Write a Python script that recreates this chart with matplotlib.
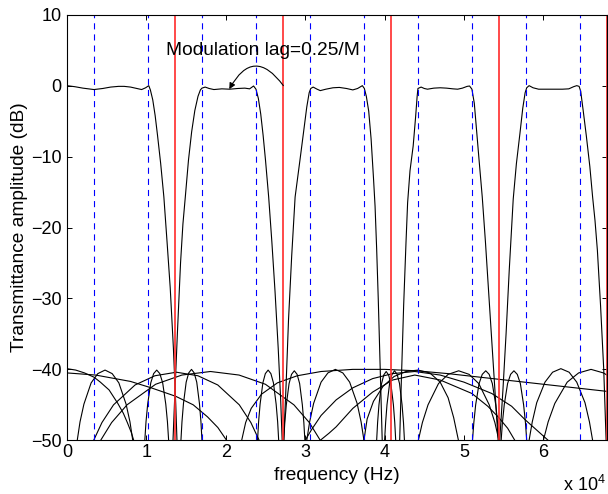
import numpy as np
import matplotlib.pyplot as plt

plt.rcParams['font.family'] = ['Liberation Sans', 'DejaVu Sans']
plt.rcParams['mathtext.fontset'] = 'custom'
plt.rcParams['mathtext.rm'] = 'Liberation Sans'

HZ = 1e4  # all frequency lists below are in units of 10^4 Hz

# band edges
red_edges = [1.36, 2.72, 4.08, 5.44, 6.80]
blue_edges = [0.34, 1.02, 1.70, 2.38, 3.06, 3.74, 4.42, 5.10, 5.78, 6.46]

# channel responses, passband + transition bands (dB)
ch1_f = [0.00, 0.10, 0.20, 0.34, 0.45, 0.55, 0.65, 0.72, 0.80, 0.88, 0.94, 0.99,
         1.03, 1.05, 1.08, 1.11, 1.14, 1.18, 1.22, 1.26, 1.30, 1.34, 1.37, 1.385]
ch1_db = [0.0, -0.15, -0.35, -0.55, -0.4, -0.2, -0.1, -0.1, -0.2, -0.4, -0.55, -0.3,
          0.0, -0.6, -2.0, -4.2, -7.0, -11.0, -15.7, -22.0, -28.5, -37.0, -45.0, -50.0]

ch2_f = [1.335, 1.36, 1.39, 1.43, 1.46, 1.49, 1.53, 1.57, 1.61, 1.65, 1.68, 1.70,
         1.74, 1.79, 1.85, 1.95, 2.05, 2.15, 2.24, 2.30, 2.35, 2.38, 2.41, 2.44,
         2.47, 2.50, 2.54, 2.58, 2.62, 2.66, 2.69, 2.71]
ch2_db = [-50.0, -43.0, -35.0, -25.0, -19.5, -15.7, -10.5, -6.5, -3.5, -1.5, -0.6, -0.35,
          -0.2, -0.4, -0.55, -0.45, -0.5, -0.4, -0.35, -0.45, -0.05, -0.5, -1.8, -4.0,
          -7.0, -10.5, -15.7, -22.0, -29.0, -37.0, -44.0, -50.0]

ch3_f = [2.73, 2.76, 2.79, 2.83, 2.873, 2.934, 2.98, 3.02, 3.05, 3.07, 3.10, 3.15,
         3.19, 3.26, 3.35, 3.43, 3.52, 3.60, 3.66, 3.72, 3.745, 3.77, 3.80, 3.83,
         3.86, 3.88, 3.90, 3.92, 3.94, 3.96, 3.97]
ch3_db = [-50.0, -42.0, -33.0, -24.0, -15.7, -10.5, -6.5, -3.0, -1.0, -0.4, -0.2, -0.5,
          -0.7, -0.5, -0.3, -0.25, -0.4, -0.6, -0.4, 0.0, -0.4, -1.5, -3.6, -7.5,
          -13.0, -17.0, -23.0, -30.0, -38.0, -46.0, -50.0]

ch4_f = [4.19, 4.21, 4.24, 4.27, 4.29, 4.32, 4.36, 4.39, 4.41, 4.42, 4.46, 4.50,
         4.54, 4.62, 4.70, 4.78, 4.86, 4.92, 4.98, 5.04, 5.07, 5.10, 5.13, 5.16,
         5.19, 5.23, 5.27, 5.31, 5.35, 5.39, 5.43]
ch4_db = [-50.0, -42.0, -31.0, -22.0, -16.5, -12.0, -8.5, -4.5, -1.5, -0.4, -0.2, -0.4,
          -0.5, -0.35, -0.3, -0.35, -0.45, -0.5, -0.35, -0.1, -0.05, -0.5, -2.5, -6.5,
          -10.5, -15.7, -22.0, -29.0, -36.0, -43.0, -50.0]

ch5_f = [5.45, 5.49, 5.53, 5.57, 5.62, 5.66, 5.705, 5.74, 5.77, 5.79, 5.82, 5.87,
         5.94, 6.04, 6.14, 6.24, 6.32, 6.38, 6.42, 6.45, 6.47, 6.50, 6.54, 6.585,
         6.62, 6.65, 6.68, 6.72, 6.76, 6.79]
ch5_db = [-50.0, -43.0, -35.0, -26.0, -16.0, -11.0, -6.7, -3.2, -1.0, -0.3, 0.0, -0.3,
          -0.5, -0.5, -0.5, -0.5, -0.45, -0.15, 0.0, -0.1, -0.8, -3.4, -7.0, -11.4,
          -15.7, -19.0, -23.2, -31.0, -40.0, -50.0]

# stopband side lobes, (freq, dB)
lobe_a1 = ([0.00, 0.11, 0.22, 0.34, 0.42, 0.53, 0.64, 0.71, 0.76, 0.81, 0.84],
           [-39.9, -40.1, -40.5, -41.1, -41.8, -42.9, -44.8, -46.2, -47.5, -48.9, -50.0])
lobe_a2 = ([0.00, 0.36, 0.80, 1.06, 1.37, 1.59, 1.77, 1.90, 2.01],
           [-40.5, -40.8, -41.7, -42.6, -43.8, -45.0, -46.7, -48.2, -50.0])
lobe_a3 = ([0.129, 0.164, 0.213, 0.304, 0.388, 0.479, 0.569, 0.653, 0.744, 0.793, 0.828],
           [-50, -47.4, -44.9, -41.9, -40.6, -40.1, -40.6, -41.9, -44.9, -47.4, -50])
lobe_a4 = ([0.980, 0.995, 1.016, 1.055, 1.091, 1.130, 1.169, 1.205, 1.244, 1.265, 1.280],
           [-50, -47.4, -44.9, -41.9, -40.6, -40.1, -40.6, -41.9, -44.9, -47.4, -50])
lobe_a5 = ([1.435, 1.448, 1.467, 1.501, 1.533, 1.568, 1.602, 1.634, 1.668, 1.687, 1.700],
           [-50, -47.4, -44.8, -41.8, -40.5, -40.0, -40.5, -41.8, -44.8, -47.4, -50])
lobe_w1 = ([0.336, 0.440, 0.586, 0.857, 1.107, 1.378, 1.649, 1.899, 2.170, 2.316, 2.420],
           [-50, -47.5, -45.0, -42.2, -40.9, -40.4, -40.9, -42.2, -45.0, -47.5, -50])
lobe_w2 = ([0.424, 0.562, 0.756, 1.116, 1.447, 1.807, 2.167, 2.499, 2.858, 3.052, 3.190],
           [-50, -47.5, -45.0, -42.1, -40.8, -40.3, -40.8, -42.1, -45.0, -47.5, -50])
lobe_w3 = ([2.20, 2.25, 2.32, 2.45, 2.65, 2.90, 3.20, 3.60, 4.00, 4.40, 4.80, 5.20,
            5.60, 6.00, 6.40, 6.80],
           [-50.0, -47.5, -45.5, -43.5, -41.9, -40.9, -40.3, -40.0, -40.0, -40.2, -40.6,
            -41.1, -41.6, -42.1, -42.6, -43.1])
lobe_b1 = ([2.400, 2.413, 2.432, 2.467, 2.498, 2.533, 2.568, 2.600, 2.634, 2.653, 2.666],
           [-50, -47.4, -44.9, -41.9, -40.6, -40.1, -40.6, -41.9, -44.9, -47.4, -50])
lobe_b2 = ([2.730, 2.743, 2.762, 2.797, 2.828, 2.863, 2.898, 2.930, 2.964, 2.983, 2.996],
           [-50, -47.5, -45.0, -42.0, -40.7, -40.2, -40.7, -42.0, -45.0, -47.5, -50])
lobe_b3 = ([3.020, 3.056, 3.106, 3.200, 3.286, 3.380, 3.474, 3.560, 3.654, 3.704, 3.740],
           [-50, -47.4, -44.8, -41.8, -40.5, -40.0, -40.5, -41.8, -44.8, -47.4, -50])
lobe_b5 = ([3.00, 3.08, 3.20, 3.39, 3.60, 3.85, 4.10, 4.38, 4.70, 5.00, 5.35, 5.60,
            5.77, 5.92, 6.06],
           [-50.0, -48.5, -46.5, -44.3, -42.6, -41.3, -40.6, -40.3, -40.8, -41.8, -43.4,
            -45.2, -47.1, -48.6, -50.0])
lobe_b6 = ([3.19, 3.30, 3.39, 3.60, 3.85, 4.10, 4.38, 4.70, 5.10, 5.30, 5.43, 5.55, 5.64],
           [-50.0, -49.0, -48.1, -45.5, -43.2, -41.5, -40.8, -41.5, -43.4, -45.2, -46.7,
            -48.3, -50.0])
lobe_c1 = ([3.900, 3.912, 3.929, 3.960, 3.989, 4.020, 4.051, 4.080, 4.111, 4.128, 4.140],
           [-50, -47.5, -45.0, -42.1, -40.8, -40.3, -40.8, -42.1, -45.0, -47.5, -50])
lobe_c2 = ([4.000, 4.013, 4.030, 4.063, 4.093, 4.125, 4.158, 4.188, 4.220, 4.238, 4.250],
           [-50, -47.5, -45.0, -42.0, -40.7, -40.2, -40.7, -42.0, -45.0, -47.5, -50])
lobe_e0 = ([3.74, 3.78, 3.86, 3.98, 4.12, 4.27, 4.42, 4.57, 4.70, 4.80, 4.87, 4.93],
           [-50.0, -47.0, -44.5, -42.4, -41.0, -40.3, -40.1, -40.5, -41.8, -44.0, -46.8, -50.0])
lobe_e1 = ([4.425, 4.476, 4.547, 4.679, 4.801, 4.933, 5.064, 5.186, 5.318, 5.389, 5.440],
           [-50, -47.5, -45.0, -42.0, -40.7, -40.2, -40.7, -42.0, -45.0, -47.5, -50])
lobe_d1 = ([5.107, 5.124, 5.147, 5.190, 5.230, 5.274, 5.317, 5.357, 5.400, 5.423, 5.440],
           [-50, -47.5, -45.0, -42.0, -40.7, -40.2, -40.7, -42.0, -45.0, -47.5, -50])
lobe_d2 = ([5.468, 5.484, 5.507, 5.549, 5.587, 5.629, 5.671, 5.710, 5.751, 5.774, 5.790],
           [-50, -47.5, -45.0, -42.0, -40.7, -40.2, -40.7, -42.0, -45.0, -47.5, -50])
lobe_f1 = ([5.820, 5.860, 5.916, 6.020, 6.116, 6.220, 6.324, 6.420, 6.524, 6.580, 6.620],
           [-50, -47.4, -44.7, -41.8, -40.4, -39.9, -40.4, -41.8, -44.7, -47.4, -50])
lobe_f2 = ([6.000, 6.060, 6.144, 6.300, 6.444, 6.600, 6.756, 6.800],
           [-50, -47.4, -44.8, -41.8, -40.5, -40.0, -40.5, -40.8])

note_text = 'Modulation lag=0.25/M'
note_pos = (1.245, 4.35)
note_tail = (2.725, 0.0)
note_head = (2.044, -0.5)

x_ticks = [0, 1, 2, 3, 4, 5, 6]
y_ticks = [-50, -40, -30, -20, -10, 0, 10]

fig = plt.figure(figsize=(6.08, 4.94), dpi=100)
ax = fig.add_axes([0.1102, 0.1087, 0.888, 0.8615])

channels = [(ch1_f, ch1_db), (ch2_f, ch2_db), (ch3_f, ch3_db), (ch4_f, ch4_db), (ch5_f, ch5_db)]
lobes = [lobe_a1, lobe_a2, lobe_a3, lobe_a4, lobe_a5, lobe_w1, lobe_w2, lobe_w3,
         lobe_b1, lobe_b2, lobe_b3, lobe_b5, lobe_b6, lobe_c1, lobe_c2, lobe_e0,
         lobe_e1, lobe_d1, lobe_d2, lobe_f1, lobe_f2]

for f, db in channels:
    ax.plot(np.array(f) * HZ, db, color='k', lw=0.8)
for f, db in lobes:
    ax.plot(np.array(f) * HZ, db, color='k', lw=0.8)

for b in blue_edges:
    ax.axvline(b * HZ, color='#0000ff', lw=0.8, dashes=(5.5, 4.5))
for r in red_edges:
    ax.axvline(r * HZ, color='#ff2a2a', lw=1.2)

ax.text(note_pos[0] * HZ, note_pos[1], note_text, fontsize=13.8, va='baseline')
ax.annotate('', xy=(note_head[0] * HZ, note_head[1]),
            xytext=(note_tail[0] * HZ, note_tail[1]),
            arrowprops=dict(arrowstyle='-|>', connectionstyle='arc3,rad=0.78',
                            color='k', lw=0.8, mutation_scale=9,
                            shrinkA=0, shrinkB=0))

ax.set_xlim(0, 6.8 * HZ)
ax.set_ylim(-50, 10)
ax.set_xticks(np.array(x_ticks) * HZ)
ax.set_xticklabels([str(t) for t in x_ticks])
ax.set_yticks(y_ticks)
ax.tick_params(direction='in', top=True, right=True, length=3.6, width=0.7, labelsize=13)
ax.tick_params(axis='x', pad=2.5)
ax.tick_params(axis='y', pad=3.8)
for s in ax.spines.values():
    s.set_linewidth(0.8)

ax.set_xlabel('frequency (Hz)', fontsize=13.8)
ax.set_ylabel('Transmittance amplitude (dB)', fontsize=13.8)
ax.xaxis.set_label_coords(0.5, -0.062)
ax.yaxis.set_label_coords(-0.072, 0.5)

fig.text(563 / 608, 0.006, r'x 10$^{4}$', fontsize=13, ha='left', va='baseline')

fig.savefig('out.png', dpi=100)
